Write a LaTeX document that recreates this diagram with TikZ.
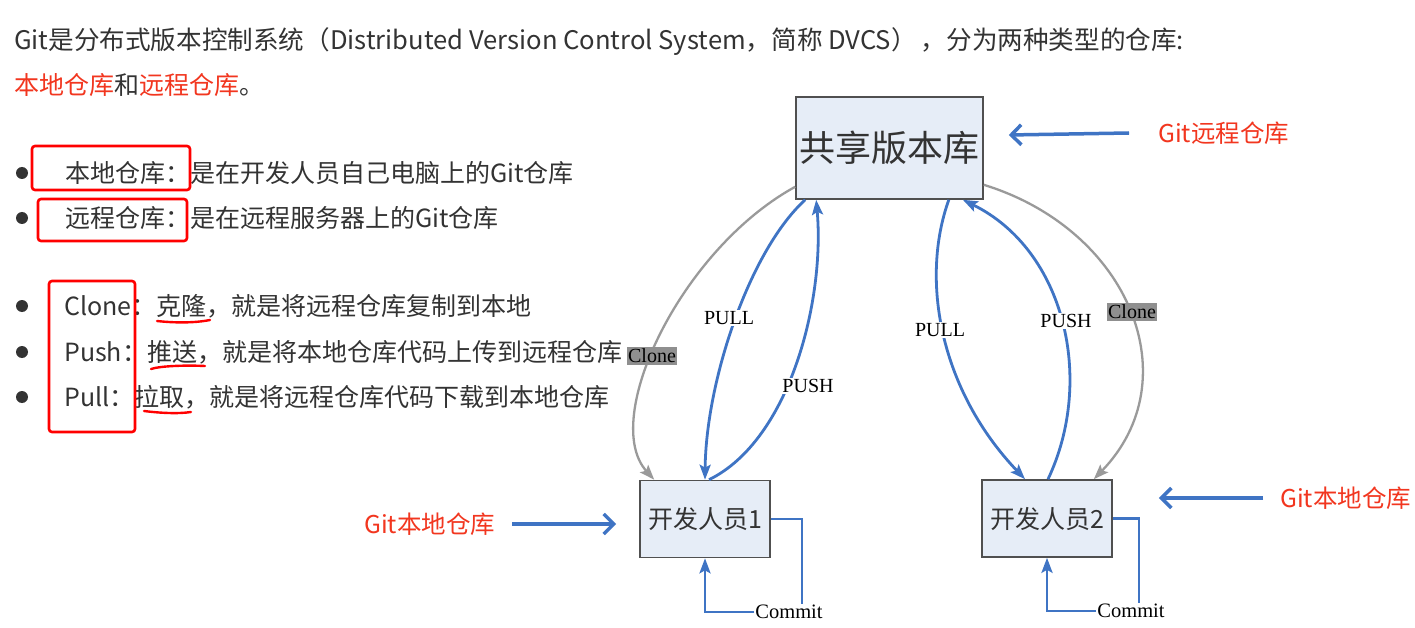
\documentclass[tikz,border=0pt]{standalone}
\usepackage{fontspec}
\setmainfont{Liberation Serif}
\newfontfamily\cjk{Noto Sans CJK SC}
\usetikzlibrary{arrows.meta}
\definecolor{lblue}{HTML}{3F74C4}
\definecolor{lgray}{HTML}{9A9A9A}
\definecolor{txtred}{HTML}{F2361F}
\definecolor{boxfill}{HTML}{E6EDF7}
\definecolor{boxline}{HTML}{505050}
\definecolor{bodytxt}{HTML}{333333}
\definecolor{clonefill}{HTML}{8F8F8F}
\tikzset{
 body/.style={font=\cjk\fontsize{25}{30}\selectfont, text=bodytxt, inner sep=0pt, anchor=west},
 redtxt/.style={font=\cjk\fontsize{24.5}{29}\selectfont, text=txtred, inner sep=0pt, anchor=west},
 dot/.style={circle, fill=bodytxt, minimum size=12pt, inner sep=0pt},
 redbox/.style={draw=red, line width=2.6pt, rounded corners=3pt, inner sep=0pt},
 redline/.style={draw=red, line width=2.4pt, line cap=round},
 repobox/.style={draw=boxline, fill=boxfill, line width=1.6pt, inner sep=0pt, minimum width=187pt, minimum height=102pt, font=\cjk\fontsize{36}{40}\selectfont, text=black!80},
 devbox/.style={draw=boxline, fill=boxfill, line width=1.6pt, inner sep=0pt, minimum width=130pt, minimum height=77pt, font=\cjk\fontsize{25}{30}\selectfont, text=black!80},
 flow/.style={draw=lblue, line width=2.8pt, -{Stealth[length=15pt,width=11pt,inset=3pt]}},
 clonearr/.style={draw=lgray, line width=2.3pt, -{Stealth[length=15pt,width=11pt,inset=3pt]}},
 plain/.style={draw=lblue, line width=2.8pt},
 sidearr/.style={draw=lblue, line width=3.5pt, -{Straight Barb[length=10pt,width=20pt]}},
 lbl/.style={font=\fontsize{20}{23}\selectfont, fill=white, inner sep=1.5pt, text=black},
 clonelbl/.style={font=\fontsize{20}{23}\selectfont, fill=clonefill, inner sep=1.5pt, text=black},
 commitlbl/.style={font=\fontsize{20.5}{23}\selectfont, inner sep=1pt, text=black},
}
\begin{document}
\begin{tikzpicture}[x=1pt,y=-1pt]
\useasboundingbox[fill=white] (0,0) rectangle (1415,628);

% ---------- left text ----------
\node[body, font=\cjk\fontsize{25.6}{30}\selectfont] (t1) at (14,42) {Git是分布式版本控制系统（Distributed Version Control System，简称 DVCS）\,，分为两种类型的仓库:};
\node[body] (t2) at (14,85) {\textcolor{txtred}{本地仓库}和\textcolor{txtred}{远程仓库}。};

\node[dot] (b1) at (22,173) {};
\node[dot] (b2) at (22,218) {};
\node[dot] (b3) at (22,306) {};
\node[dot] (b4) at (22,352) {};
\node[dot] (b5) at (22,397) {};

\node[body] (l1) at (65,173) {本地仓库：是在开发人员自己电脑上的Git仓库};
\node[body] (l2) at (65,218) {远程仓库：是在远程服务器上的Git仓库};
\node[body] (l3) at (64,306) {Clone：克隆，就是将远程仓库复制到本地};
\node[body] (l4) at (64,352) {Push：推送，就是将本地仓库代码上传到远程仓库};
\node[body] (l5) at (64,397) {Pull：拉取，就是将远程仓库代码下载到本地仓库};

\node[redbox, minimum width=158pt, minimum height=44pt] (r1) at (111,168) {};
\node[redbox, minimum width=149pt, minimum height=42pt] (r2) at (112.5,220) {};
\node[redbox, minimum width=86pt, minimum height=151pt] (r3) at (92,356.5) {};

\draw[redline] (157,321) .. controls (175,323) and (195,323) .. (210,320);
\draw[redline] (151,369) .. controls (160,366) and (185,365) .. (205,366);
\draw[redline] (144,411) .. controls (160,413) and (178,414) .. (191,412);

% ---------- diagram ----------
\node[repobox] (repo) at (889.5,148) {共享版本库};
\node[devbox] (dev1) at (705,519) {开发人员1};
\node[devbox] (dev2) at (1047,518.5) {开发人员2};

% clone curves
\draw[clonearr] ([yshift=13pt]repo.south west) .. controls (680,250) and (600,420) .. ([xshift=15pt]dev1.north west);
\draw[clonearr] ([yshift=15pt]repo.south east) .. controls (1130,230) and (1190,380) .. ([xshift=-19pt]dev2.north east);

% pull / push left
\draw[flow] ([xshift=10pt]repo.south west) .. controls (750,250) and (706,380) .. (dev1.north);
\draw[flow] ([xshift=4pt]dev1.north) .. controls (790,440) and (825,300) .. ([xshift=21pt]repo.south west);
% pull / push right
\draw[flow] ([xshift=-35pt]repo.south east) .. controls (920,280) and (940,390) .. ([xshift=-22pt]dev2.north);
\draw[flow] ([xshift=1pt]dev2.north) .. controls (1095,380) and (1065,250) .. ([xshift=-21pt]repo.south east);

% labels on curves
\node[clonelbl] (cl1) at (652,356) {Clone};
\node[clonelbl] (cl2) at (1132,312) {Clone};
\node[lbl] (pl1) at (729,318) {PULL};
\node[lbl] (ps1) at (808,386) {PUSH};
\node[lbl] (pl2) at (940,330) {PULL};
\node[lbl] (ps2) at (1066,321) {PUSH};

% commit loops
\node[commitlbl] (c1) at (789,612) {Commit};
\node[commitlbl] (c2) at (1131,611) {Commit};
\draw[plain] (dev1.east) -| ([xshift=13pt]c1.north);
\draw[flow] (c1.west) -| (dev1.south);
\draw[plain] (dev2.east) -| ([xshift=8pt]c2.north);
\draw[flow] (c2.west) -| (dev2.south);

% side labels
\node[redtxt] (grem) at (1158,133) {Git远程仓库};
\node[redtxt] (gloc1) at (364,524) {Git本地仓库};
\node[redtxt] (gloc2) at (1280,498) {Git本地仓库};
\draw[sidearr] ([xshift=-29pt]grem.west) -- ([xshift=25pt,yshift=13pt]repo.east);
\draw[sidearr] ([xshift=17pt]gloc1.east) -- ([xshift=-23pt]dev1.west |- gloc1.east);
\draw[sidearr] ([xshift=-17pt]gloc2.west) -- ([xshift=46pt]dev2.east |- gloc2.west);
\end{tikzpicture}
\end{document}
